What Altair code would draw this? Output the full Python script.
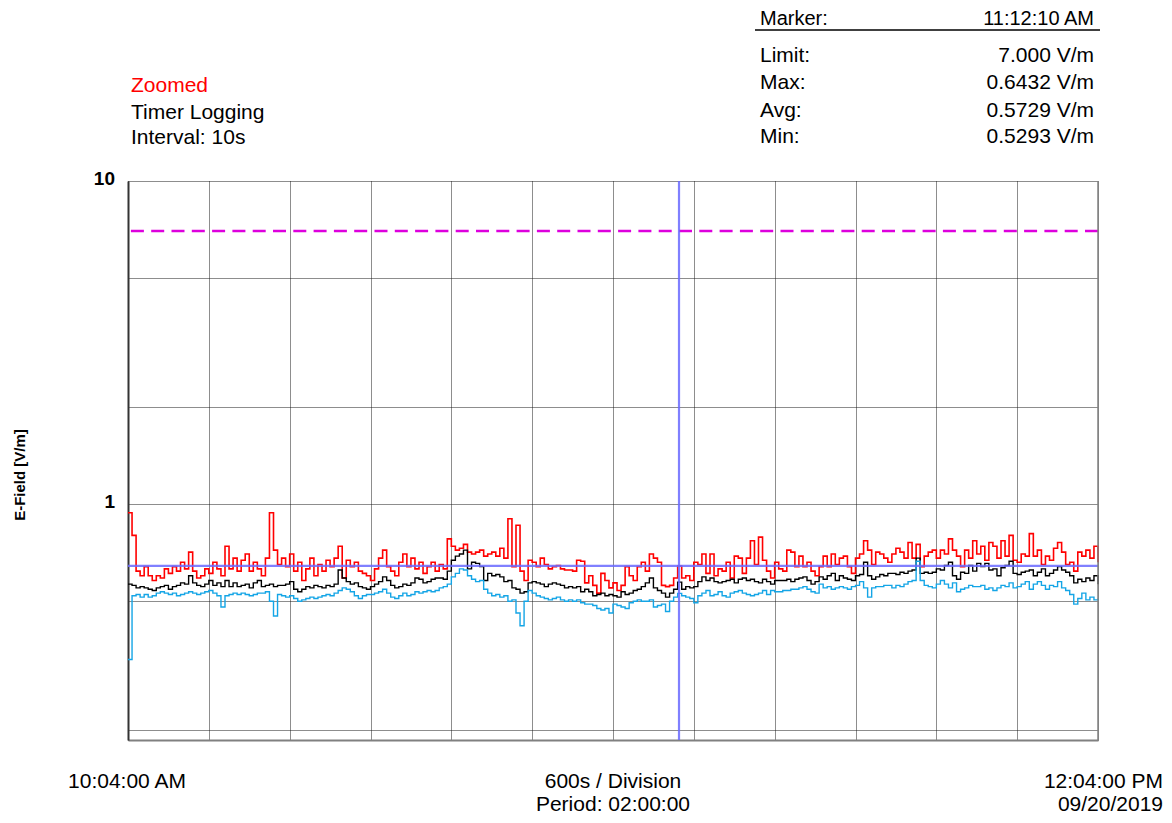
import altair as alt
import pandas as pd

FONT = "Liberation Sans"

# E-field readings (V/m), sampled every 30 s from 10:04:00 to 12:04:00
max_vals = [
    0.94, 0.80, 0.62, 0.60, 0.64, 0.60, 0.58, 0.60, 0.59, 0.63,
    0.61, 0.64, 0.62, 0.66, 0.63, 0.71, 0.62, 0.59, 0.60, 0.63,
    0.61, 0.66, 0.63, 0.60, 0.74, 0.63, 0.68, 0.62, 0.67, 0.70,
    0.62, 0.66, 0.63, 0.60, 0.68, 0.94, 0.72, 0.65, 0.68, 0.64,
    0.70,
    0.62, 0.66, 0.58, 0.63, 0.68, 0.60, 0.65, 0.62, 0.67,
    0.64, 0.68, 0.74, 0.59, 0.67, 0.64, 0.66, 0.62, 0.61, 0.60,
    0.58, 0.63, 0.68, 0.72, 0.64, 0.62, 0.60, 0.66, 0.70, 0.64,
    0.68, 0.63, 0.66, 0.61, 0.64, 0.66, 0.62, 0.65, 0.63, 0.78,
    0.74,
    0.72, 0.73, 0.75, 0.71, 0.70, 0.71, 0.72, 0.69, 0.70,
    0.71, 0.69, 0.73, 0.68, 0.90, 0.64, 0.86, 0.62, 0.58, 0.67,
    0.66, 0.64, 0.68, 0.65, 0.63, 0.64, 0.645, 0.63, 0.625, 0.625,
    0.62, 0.67, 0.665, 0.57, 0.60, 0.56, 0.53, 0.61, 0.58, 0.55,
    0.57,
    0.54, 0.56, 0.64, 0.60, 0.58, 0.64, 0.66, 0.62, 0.70,
    0.68, 0.66, 0.56, 0.555, 0.56, 0.59, 0.643, 0.59, 0.60, 0.58,
    0.66, 0.65, 0.70, 0.61, 0.70, 0.60, 0.63, 0.62, 0.66, 0.59,
    0.69, 0.68, 0.61, 0.68, 0.77, 0.65, 0.79, 0.67, 0.62, 0.59,
    0.66,
    0.63, 0.62, 0.72, 0.71, 0.64, 0.69, 0.64, 0.66, 0.62,
    0.60, 0.64, 0.69, 0.64, 0.70, 0.65, 0.68, 0.69, 0.64, 0.61,
    0.68, 0.70, 0.77, 0.72, 0.65, 0.71, 0.70, 0.68, 0.66, 0.70,
    0.73, 0.71, 0.68, 0.76, 0.68, 0.75, 0.64, 0.69, 0.71, 0.72,
    0.68,
    0.72, 0.70, 0.78, 0.72, 0.69, 0.64, 0.72, 0.68, 0.77,
    0.70, 0.74, 0.67, 0.76, 0.74, 0.68, 0.77, 0.69, 0.80, 0.67,
    0.66, 0.70, 0.69, 0.81, 0.69, 0.72, 0.65, 0.69, 0.67, 0.73,
    0.76, 0.71, 0.65, 0.66, 0.62, 0.71, 0.69, 0.72, 0.68, 0.74,
    0.66,
]

avg_vals = [
    0.565, 0.56, 0.55, 0.555, 0.55, 0.545, 0.54, 0.55, 0.555, 0.56,
    0.545, 0.555, 0.56, 0.57, 0.565, 0.60, 0.57, 0.56, 0.555, 0.565,
    0.58, 0.56, 0.57, 0.555, 0.58, 0.555, 0.57, 0.555, 0.56, 0.565,
    0.55, 0.57, 0.58, 0.555, 0.56, 0.565, 0.555, 0.56, 0.56, 0.565,
    0.575,
    0.545, 0.535, 0.545, 0.555, 0.55, 0.56, 0.555, 0.55, 0.56,
    0.555, 0.565, 0.625, 0.59, 0.575, 0.565, 0.57, 0.555, 0.55, 0.545,
    0.555, 0.565, 0.575, 0.595, 0.58, 0.56, 0.55, 0.555, 0.565, 0.56,
    0.57, 0.59, 0.585, 0.57, 0.575, 0.585, 0.59, 0.59, 0.585, 0.62,
    0.67,
    0.69, 0.70, 0.72, 0.63, 0.66, 0.655, 0.64, 0.58, 0.61,
    0.60, 0.605, 0.595, 0.575, 0.58, 0.55, 0.545, 0.53, 0.535, 0.57,
    0.575, 0.57, 0.565, 0.555, 0.565, 0.57, 0.565, 0.56, 0.55, 0.555,
    0.55, 0.555, 0.535, 0.545, 0.535, 0.52, 0.525, 0.53, 0.52, 0.525,
    0.52,
    0.515, 0.535, 0.525, 0.53, 0.54, 0.545, 0.555, 0.57, 0.59,
    0.55, 0.54, 0.53, 0.515, 0.53, 0.545, 0.573, 0.545, 0.555, 0.55,
    0.555, 0.575, 0.595, 0.58, 0.59, 0.575, 0.57, 0.575, 0.58, 0.585,
    0.57, 0.585, 0.59, 0.58, 0.585, 0.575, 0.57, 0.585, 0.575, 0.565,
    0.58,
    0.58, 0.58, 0.585, 0.575, 0.585, 0.59, 0.595, 0.58, 0.565,
    0.575, 0.595, 0.585, 0.60, 0.61, 0.58, 0.60, 0.59, 0.585, 0.58,
    0.60, 0.605, 0.66, 0.60, 0.585, 0.595, 0.605, 0.60, 0.61, 0.61,
    0.605, 0.615, 0.61, 0.62, 0.625, 0.68, 0.61, 0.615, 0.61, 0.615,
    0.63,
    0.625, 0.645, 0.66, 0.60, 0.585, 0.615, 0.61, 0.645, 0.62,
    0.655, 0.64, 0.655, 0.625, 0.63, 0.60, 0.635, 0.645, 0.665, 0.61,
    0.605, 0.615, 0.62, 0.625, 0.60, 0.615, 0.63, 0.60, 0.61, 0.625,
    0.64, 0.625, 0.615, 0.60, 0.57, 0.585, 0.575, 0.59, 0.58, 0.60,
    0.565,
]

min_vals = [
    0.33, 0.52, 0.525, 0.515, 0.525, 0.515, 0.52, 0.53, 0.535, 0.53,
    0.525, 0.53, 0.52, 0.525, 0.53, 0.535, 0.53, 0.525, 0.53, 0.535,
    0.54, 0.53, 0.52, 0.48, 0.52, 0.525, 0.53, 0.525, 0.53, 0.525,
    0.52, 0.525, 0.53, 0.53, 0.535, 0.50, 0.45, 0.525, 0.52, 0.515,
    0.52,
    0.51, 0.50, 0.505, 0.51, 0.515, 0.51, 0.515, 0.52, 0.525,
    0.52, 0.53, 0.54, 0.55, 0.545, 0.535, 0.52, 0.51, 0.52, 0.525,
    0.525, 0.53, 0.535, 0.545, 0.53, 0.515, 0.51, 0.52, 0.53, 0.52,
    0.525, 0.535, 0.53, 0.535, 0.54, 0.535, 0.54, 0.55, 0.555, 0.565,
    0.595,
    0.61, 0.63, 0.625, 0.60, 0.585, 0.575, 0.58, 0.545, 0.53,
    0.52, 0.525, 0.515, 0.52, 0.50, 0.505, 0.46, 0.42, 0.50, 0.54,
    0.53, 0.52, 0.515, 0.51, 0.505, 0.51, 0.515, 0.505, 0.50, 0.505,
    0.50, 0.505, 0.495, 0.49, 0.49, 0.485, 0.475, 0.47, 0.475, 0.46,
    0.49,
    0.485, 0.48, 0.475, 0.495, 0.50, 0.505, 0.50, 0.50, 0.505,
    0.48, 0.485, 0.49, 0.465, 0.50, 0.515, 0.529, 0.52, 0.515, 0.51,
    0.495, 0.52, 0.53, 0.54, 0.52, 0.525, 0.535, 0.52, 0.515, 0.53,
    0.535, 0.54, 0.53, 0.525, 0.52, 0.525, 0.53, 0.54, 0.525, 0.54,
    0.535,
    0.535, 0.54, 0.54, 0.545, 0.545, 0.55, 0.555, 0.545, 0.535,
    0.53, 0.565, 0.55, 0.555, 0.545, 0.55, 0.555, 0.55, 0.545, 0.555,
    0.56, 0.575, 0.55, 0.515, 0.55, 0.555, 0.555, 0.56, 0.56, 0.55,
    0.56, 0.555, 0.565, 0.575, 0.58, 0.665, 0.58, 0.56, 0.555, 0.55,
    0.565,
    0.58, 0.565, 0.55, 0.57, 0.535, 0.545, 0.55, 0.56, 0.555,
    0.555, 0.56, 0.545, 0.55, 0.54, 0.55, 0.56, 0.555, 0.57, 0.55,
    0.555, 0.565, 0.575, 0.545, 0.565, 0.575, 0.56, 0.545, 0.56, 0.555,
    0.575, 0.55, 0.54, 0.525, 0.49, 0.51, 0.53, 0.505, 0.515, 0.505,
    0.51,
]

sample_step_min = 0.5
minutes = [i * sample_step_min for i in range(len(max_vals))]

limit_value = [7.0]
marker_max = [0.6432]
marker_minute = [68 + 10 / 60]  # 11:12:10 AM
y_grid = [0.2, 0.5, 1, 2, 5, 10]
x_grid = list(range(0, 121, 10))
y_tick_values = [10, 1]
y_tick_labels = ["10", "1"]

df = pd.DataFrame({"t": minutes, "mx": max_vals, "av": avg_vals, "mn": min_vals})

xscale = alt.Scale(domain=[0, 120], nice=False, zero=False)
yscale = alt.Scale(type="log", domain=[0.186, 10], nice=False)
xaxis = alt.Axis(values=x_grid, labels=False, ticks=False, title=None,
                 domainColor="#808080", domainWidth=2,
                 grid=True, gridColor="#1a1a1a", gridDash=[1, 1], gridWidth=1)
yaxis = alt.Axis(values=y_grid, labels=False, ticks=False, title=None,
                 domainColor="#333333", domainWidth=2,
                 grid=True, gridColor="#1a1a1a", gridDash=[1, 1], gridWidth=1)

def X(field):
    return alt.X(field, scale=xscale, axis=xaxis)

def Y(field):
    return alt.Y(field, scale=yscale, axis=yaxis)

base = alt.Chart(df)
red = base.mark_line(interpolate="step-after", color="#ff0000", strokeWidth=1.6).encode(x=X("t:Q"), y=Y("mx:Q"))
blk = base.mark_line(interpolate="step-after", color="#000000", strokeWidth=1.4).encode(x=X("t:Q"), y=Y("av:Q"))
cyn = base.mark_line(interpolate="step-after", color="#14a5e6", strokeWidth=1.4).encode(x=X("t:Q"), y=Y("mn:Q"))

limit = alt.Chart(pd.DataFrame({"v": limit_value})).mark_rule(
    color="#dd00dd", strokeWidth=2.5, strokeDash=[13, 7.3]).encode(y=Y("v:Q"))
maxline = alt.Chart(pd.DataFrame({"v": marker_max})).mark_rule(
    color="#6a6aff", strokeWidth=2.2, opacity=0.85).encode(y=Y("v:Q"))
marker = alt.Chart(pd.DataFrame({"t": marker_minute})).mark_rule(
    color="#6a6aff", strokeWidth=2.2, opacity=0.85).encode(x=X("t:Q"))
right_border = alt.Chart(pd.DataFrame({"t": [120]})).mark_rule(
    color="#808080", strokeWidth=1.5).encode(x=X("t:Q"))

ticklab = alt.Chart(pd.DataFrame({"v": y_tick_values, "lab": y_tick_labels})).mark_text(
    align="right", baseline="middle", font=FONT, fontSize=19, fontWeight="bold", dy=-2
).encode(x=alt.value(-13), y=Y("v:Q"), text="lab:N")


def label(txt, x, y, align="left", color="#000000", size=21, weight="normal", angle=0):
    return alt.Chart(pd.DataFrame({"s": [txt]})).mark_text(
        align=align, baseline="middle", font=FONT, fontSize=size, color=color,
        fontWeight=weight, angle=angle
    ).encode(x=alt.value(x), y=alt.value(y), text="s:N")


texts = [
    label("Zoomed", 3, -95, color="#ff0000"),
    label("Timer Logging", 3, -68),
    label("Interval: 10s", 3, -43),
    label("Marker:", 632, -162, size=20),
    label("11:12:10 AM", 966, -162, align="right", size=20),
    label("Limit:", 632, -125),
    label("7.000 V/m", 966, -125, align="right"),
    label("Max:", 632, -98),
    label("0.6432 V/m", 966, -98, align="right"),
    label("Avg:", 632, -70),
    label("0.5729 V/m", 966, -70, align="right"),
    label("Min:", 632, -44),
    label("0.5293 V/m", 966, -44, align="right"),
    label("10:04:00 AM", -1, 601, align="center"),
    label("600s / Division", 485, 601, align="center"),
    label("Period: 02:00:00", 485, 624, align="center"),
    label("12:04:00 PM", 1035, 601, align="right"),
    label("09/20/2019", 1035, 624, align="right"),
    label("E-Field [V/m]", -108, 294, align="center", size=15, weight="bold", angle=270),
]

sep = alt.Chart(pd.DataFrame({"a": [0]})).mark_rule(color="#000000", strokeWidth=1.5).encode(
    x=alt.value(627), x2=alt.value(972), y=alt.value(-151))

chart = alt.layer(red, blk, cyn, limit, maxline, marker, right_border, ticklab, sep, *texts).properties(
    width=970, height=559,
    autosize=alt.AutoSizeParams(type="none"),
    padding={"left": 120, "top": 173, "right": 66, "bottom": 75},
    background="white",
).configure_view(stroke="transparent")

chart.save("out.html", embed_options={"renderer": "svg", "actions": False})
